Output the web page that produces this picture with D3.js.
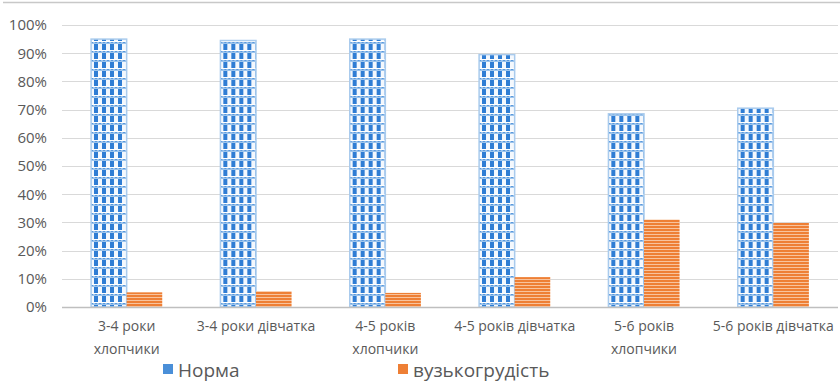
<!DOCTYPE html>
<meta charset="utf-8">
<style>
body { margin: 0; background: #fff; }
.axis text { font: 14px "Open Sans", "Noto Sans", sans-serif; fill: #595959; }
.ylab text { font-size: 15px; }
.grid line { stroke: #d9d9d9; }
.legend text { font: 19px "Open Sans", "Noto Sans", sans-serif; fill: #595959; }
</style>
<body>
<script src="https://cdn.jsdelivr.net/npm/d3@7"></script>
<script>
// categories (two lines each) and series
var categories = [
  ["3-4 роки", "хлопчики"],
  ["3-4 роки дівчатка"],
  ["4-5 років", "хлопчики"],
  ["4-5 років дівчатка"],
  ["5-6 років", "хлопчики"],
  ["5-6 років дівчатка"]
];
var seriesNames = ["Норма", "вузькогрудість"];
var norma = [0.95, 0.945, 0.95, 0.895, 0.685, 0.705];
var vuzko = [0.052, 0.056, 0.05, 0.106, 0.31, 0.298];
var yTicks = [0, 0.1, 0.2, 0.3, 0.4, 0.5, 0.6, 0.7, 0.8, 0.9, 1];

var margin = {top: 25, right: 2, bottom: 77, left: 62},
    width = 840 - margin.left - margin.right,
    height = 384 - margin.top - margin.bottom;

var root = d3.select("body").append("svg")
    .attr("width", 840)
    .attr("height", 384);

// patterns
var defs = root.append("defs");
var pb = defs.append("pattern").attr("id", "pblue")
    .attr("patternUnits", "userSpaceOnUse").attr("width", 8).attr("height", 9);
pb.append("rect").attr("width", 8).attr("height", 9).attr("fill", "#9cc4ec");
pb.append("rect").attr("x", 0).attr("y", 1).attr("width", 4).attr("height", 6).attr("fill", "#2f7dd4");
pb.append("rect").attr("x", 4).attr("y", 1).attr("width", 4).attr("height", 6).attr("fill", "#f4f8fd");
pb.append("rect").attr("x", 0).attr("y", 7).attr("width", 8).attr("height", 1).attr("fill", "#ffffff");
pb.append("rect").attr("x", 1).attr("y", 8).attr("width", 2).attr("height", 1).attr("fill", "#5a98dc");
pb.append("rect").attr("x", 5).attr("y", 8).attr("width", 2).attr("height", 1).attr("fill", "#5a98dc");

var po = defs.append("pattern").attr("id", "porange")
    .attr("patternUnits", "userSpaceOnUse").attr("width", 4).attr("height", 3);
po.append("rect").attr("width", 4).attr("height", 3).attr("fill", "#ee7f35");
po.append("rect").attr("y", 2).attr("width", 4).attr("height", 1).attr("fill", "#f8c39d");

// top border line
root.append("line").attr("x1", 3).attr("x2", 840).attr("y1", 2.5).attr("y2", 2.5)
    .attr("stroke", "#c8c8c8").attr("stroke-width", 1.5);

var svg = root.append("g")
    .attr("transform", "translate(" + margin.left + "," + margin.top + ")");

var x0 = d3.scaleBand().domain(d3.range(categories.length)).range([0, width]).padding(0);
var x1 = d3.scaleBand().domain([0, 1]).range([x0.bandwidth() * 0.225, x0.bandwidth() * 0.775]);
var y = d3.scaleLinear().domain([0, 1]).range([height, 0]);

// gridlines
svg.append("g").attr("class", "grid")
  .selectAll("line").data(yTicks.slice(1)).enter().append("line")
    .attr("x1", 0).attr("x2", width)
    .attr("y1", function(d) { return Math.round(y(d)) + 0.5; })
    .attr("y2", function(d) { return Math.round(y(d)) + 0.5; });

// y axis labels
var yAxis = d3.axisLeft(y).tickValues(yTicks).tickFormat(d3.format(".0%")).tickSize(0).tickPadding(15);
svg.append("g").attr("class", "axis ylab").call(yAxis)
  .call(function(g) { g.select(".domain").remove(); });

var groups = svg.selectAll(".grp").data(categories).enter().append("g")
    .attr("transform", function(d, i) { return "translate(" + x0(i) + ",0)"; });

groups.append("rect")
    .attr("x", x1(0)).attr("width", x1.bandwidth())
    .attr("y", function(d, i) { return y(norma[i]); })
    .attr("height", function(d, i) { return y(0) - y(norma[i]); })
    .attr("fill", "url(#pblue)").attr("stroke", "#a9cbed").attr("stroke-width", 1.5);

groups.append("rect")
    .attr("x", x1(1)).attr("width", x1.bandwidth())
    .attr("y", function(d, i) { return y(vuzko[i]); })
    .attr("height", function(d, i) { return y(0) - y(vuzko[i]); })
    .attr("fill", "url(#porange)");

// x axis line
svg.append("line").attr("x1", 0).attr("x2", width)
    .attr("y1", height + 0.5).attr("y2", height + 0.5)
    .attr("stroke", "#bfbfbf").attr("stroke-width", 1.5);

// x labels
var xl = svg.append("g").attr("class", "axis");
categories.forEach(function(lines, i) {
  var t = xl.append("text")
      .attr("x", x0(i) + x0.bandwidth() / 2)
      .attr("y", height + 24)
      .attr("text-anchor", "middle");
  lines.forEach(function(s, j) {
    t.append("tspan").attr("x", x0(i) + x0.bandwidth() / 2).attr("dy", j === 0 ? 0 : 23).text(s);
  });
});

// legend
var legend = root.append("g").attr("class", "legend");
var lx = [163, 398];
seriesNames.forEach(function(n, i) {
  legend.append("rect").attr("x", lx[i]).attr("y", 364).attr("width", 10).attr("height", 10)
      .attr("fill", i === 0 ? "#4a8fd8" : "#ee7f35");
  legend.append("text").attr("x", lx[i] + 15).attr("y", 377).text(n);
});
</script>
</body>
